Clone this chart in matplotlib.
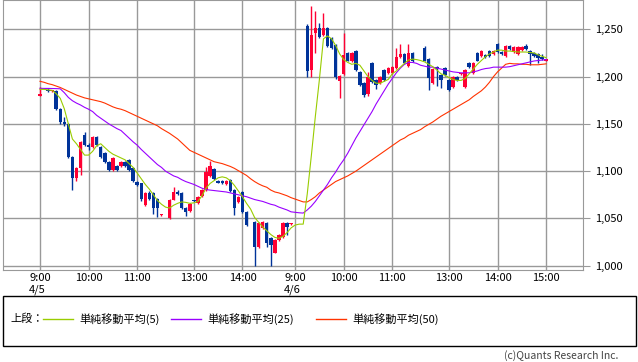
import numpy as np
import matplotlib.pyplot as plt
from matplotlib.lines import Line2D
from matplotlib.patches import Rectangle

plt.rcParams['font.family'] = ['Noto Sans CJK JP', 'DejaVu Sans']

# 5-minute candles, one slot per bar (None = no trade); day 1 = slots 0-62, day 2 = 63-125
open_ = [1180, None, 1186, 1185, 1185, 1166, 1152, 1150, 1115, 1093,
         1103, 1138, 1127, 1126, 1136, 1126, 1119, 1110, 1101, 1105,
         1105, 1110, 1112, 1103, 1089, 1087, 1064, 1077, 1077, 1071,
         1054, None, 1050, 1070, 1078, 1077, 1061, 1058, 1069, 1066,
         1074, 1080, 1095, 1102, 1090, 1090, 1086, 1091, 1080, 1067,
         1078, 1057, None, 1046, 1020, 1040, 1045, 1029, 1014, 1027,
         1030, 1045, 1044, None, None, None, 1254, 1207, 1246, 1251,
         1244, 1251, 1241, 1233, 1195, 1203, 1225, 1216, 1227, 1205,
         1193, 1182, 1214, 1196, 1193, 1207, 1204, 1204, 1209, 1221,
         1224, 1211, 1225, None, None, 1230, 1219, 1193, 1210, 1202,
         1209, 1196, 1189, 1200, 1203, 1189, 1214, 1204, 1225, 1222,
         1223, 1227, 1224, 1235, 1226, 1222, 1232, 1226, 1224, 1228,
         1232, 1227, 1225, 1224, 1221, 1217]
high = [1189, None, 1188, 1186, 1186, 1167, 1157, 1151, 1116, 1104,
        1132, 1141, 1130, 1137, 1137, 1127, 1120, 1111, 1115, 1106,
        1111, 1111, 1113, 1104, 1090, 1088, 1078, 1079, 1078, 1072,
        1055, None, 1071, 1083, 1080, 1078, 1062, 1066, 1070, 1074,
        1081, 1104, 1111, 1103, 1091, 1091, 1091, 1092, 1081, 1074,
        1079, 1058, None, 1047, 1046, 1047, 1046, 1030, 1028, 1034,
        1046, 1046, 1045, None, None, None, 1256, 1275, 1269, 1257,
        1267, 1252, 1242, 1234, 1202, 1246, 1226, 1226, 1228, 1206,
        1194, 1205, 1215, 1197, 1201, 1208, 1210, 1211, 1230, 1234,
        1225, 1235, 1226, None, None, 1232, 1220, 1209, 1211, 1203,
        1210, 1197, 1201, 1201, 1204, 1208, 1215, 1215, 1226, 1228,
        1224, 1228, 1228, 1236, 1227, 1233, 1233, 1232, 1232, 1232,
        1234, 1228, 1226, 1225, 1224, 1218]
low = [1179, None, 1184, 1184, 1165, 1150, 1148, 1114, 1080, 1090,
       1096, 1127, 1122, 1125, 1127, 1114, 1109, 1100, 1100, 1100,
       1104, 1104, 1100, 1089, 1084, 1068, 1063, 1070, 1055, 1052,
       1053, None, 1049, 1069, 1075, 1060, 1053, 1057, 1067, 1065,
       1073, 1079, 1094, 1091, 1087, 1086, 1085, 1078, 1054, 1066,
       1056, 1042, None, 1000, 1019, 1039, 1020, 1000, 1013, 1026,
       1029, 1032, 1043, None, None, None, 1200, 1200, 1225, 1241,
       1243, 1231, 1229, 1197, 1177, 1202, 1216, 1215, 1206, 1190,
       1178, 1180, 1193, 1187, 1192, 1195, 1203, 1203, 1208, 1220,
       1213, 1210, 1215, None, None, 1216, 1186, 1192, 1190, 1188,
       1201, 1185, 1188, 1195, 1202, 1188, 1209, 1203, 1216, 1221,
       1220, 1221, 1223, 1225, 1223, 1221, 1228, 1225, 1223, 1227,
       1228, 1212, 1221, 1214, 1218, 1216]
close = [1182, None, 1185, 1185, 1166, 1152, 1150, 1115, 1093, 1103,
         1131, 1128, 1126, 1136, 1128, 1115, 1110, 1101, 1114, 1101,
         1110, 1105, 1101, 1090, 1085, 1071, 1077, 1071, 1061, 1061,
         1054, None, 1070, 1078, 1076, 1061, 1057, 1065, 1068, 1073,
         1080, 1099, 1105, 1092, 1088, 1087, 1090, 1079, 1061, 1073,
         1057, 1043, None, 1020, 1045, 1046, 1024, 1022, 1027, 1033,
         1045, 1041, 1044, None, None, None, 1206, 1244, 1251, 1242,
         1251, 1232, 1230, 1200, 1201, 1223, 1217, 1225, 1207, 1191,
         1181, 1200, 1194, 1191, 1200, 1196, 1209, 1210, 1221, 1224,
         1214, 1225, 1216, None, None, 1217, 1198, 1208, 1208, 1196,
         1202, 1186, 1200, 1196, 1203, 1207, 1210, 1214, 1217, 1227,
         1221, 1222, 1227, 1226, 1224, 1232, 1229, 1231, 1231, 1231,
         1229, 1224, 1222, 1220, 1219, 1217]

ma5 = [1186.5, 1186.5, 1186, 1185.5, 1182, 1177, 1166, 1150, 1134, 1129,
       1123, 1117, 1117, 1121, 1127, 1129, 1125, 1121, 1118, 1116,
       1114, 1112, 1108, 1104, 1098, 1092, 1086, 1081, 1075, 1069,
       1065, 1062, 1061, 1064, 1066, 1067.5, 1067, 1066, 1066.5, 1068,
       1074, 1082, 1087, 1090, 1093, 1094, 1093, 1090, 1085, 1079,
       1073, 1066, 1060, 1051, 1046, 1041, 1037, 1033, 1030, 1029,
       1031, 1035, 1040, 1043, 1044, 1044, 1076, 1116, 1158, 1197,
       1240, 1243, 1240, 1233, 1224, 1218, 1215, 1213, 1214, 1212,
       1206, 1200, 1196, 1193, 1193, 1195, 1197, 1203, 1206, 1210,
       1214, 1217.5, 1218.5, 1218, 1217, 1215.5, 1213, 1210.5, 1207, 1203,
       1201.5, 1199, 1197, 1196, 1196, 1198, 1203, 1208, 1213, 1217,
       1221, 1224, 1226, 1228, 1228, 1227, 1227, 1226.5, 1226, 1226,
       1226, 1225.5, 1225, 1223, 1221.5, 1220]
ma25 = [1187.6, 1187.5, 1187.5, 1187.4, 1187.3, 1187.1, 1183, 1178, 1174.5, 1172,
        1170, 1167.5, 1165.5, 1163, 1159, 1156, 1153, 1150, 1147.5, 1145,
        1143, 1139, 1135, 1131, 1127.5, 1123, 1119, 1115, 1111, 1107,
        1104, 1100, 1097.5, 1095, 1093.5, 1091, 1089, 1087.5, 1086, 1084,
        1082, 1080.5, 1080, 1079.5, 1079, 1078.5, 1078, 1077, 1076, 1075,
        1074, 1073, 1071.5, 1070, 1069, 1068, 1066.5, 1065, 1064, 1062,
        1060.5, 1059, 1057, 1056.5, 1056, 1055.7, 1059, 1063, 1068, 1074,
        1080, 1086, 1093, 1099, 1106, 1112, 1119, 1127, 1135, 1142,
        1149, 1156, 1163, 1171, 1178, 1185, 1192, 1198, 1204, 1209,
        1213, 1215, 1215, 1214, 1212, 1211, 1210, 1210, 1209, 1208,
        1207, 1206, 1205, 1204.5, 1204, 1204, 1204, 1205, 1206, 1207.5,
        1208.5, 1209, 1210, 1210, 1210, 1210, 1210.5, 1211.5, 1212.5, 1213.5,
        1214.5, 1215.5, 1216.5, 1217, 1217.5, 1218]
ma50 = [1195, 1194, 1192.5, 1191.5, 1190, 1188.5, 1186.5, 1184.5, 1182.5, 1180.5,
        1179, 1177.5, 1176.5, 1175.5, 1174.5, 1173.5, 1172, 1170, 1168, 1166.5,
        1165.5, 1164, 1162, 1160, 1158, 1156, 1154, 1152, 1150, 1148,
        1145, 1142.5, 1140, 1137, 1134, 1130, 1126, 1122, 1120, 1118,
        1116, 1114, 1112, 1110, 1109, 1108, 1106.5, 1105, 1103, 1100.5,
        1098, 1095.5, 1092, 1089, 1086.5, 1084.5, 1083, 1080, 1078, 1077,
        1075.5, 1074, 1072, 1070.5, 1069, 1067.5, 1067.5, 1070, 1073, 1077,
        1080, 1083, 1086, 1089, 1091, 1093, 1095, 1097.5, 1100, 1103,
        1106, 1109, 1112, 1115, 1118, 1121, 1124, 1127, 1130, 1133,
        1135, 1138, 1140, 1142, 1144, 1147, 1149.5, 1152, 1155, 1158,
        1160.5, 1163, 1165.5, 1168, 1170.5, 1173, 1175.5, 1179, 1182, 1185,
        1189, 1194, 1200, 1205, 1209, 1213, 1214, 1213.5, 1213.5, 1213,
        1213, 1212.5, 1212.5, 1212.5, 1213, 1213.5]

tick_slots = [0, 12, 24, 38, 50, 63, 75, 87, 101, 113, 125]
tick_labels = ['9:00\n4/5', '10:00', '11:00', '13:00', '14:00', '9:00\n4/6',
               '10:00', '11:00', '13:00', '14:00', '15:00']
price_ticks = [1000, 1050, 1100, 1150, 1200, 1250]

W, H = 638, 362
fig = plt.figure(figsize=(W / 100, H / 100), dpi=100)
ax = fig.add_axes([3 / W, 1 - 270 / H, 580 / W, 270 / H])

o = np.array(open_, dtype=float)
h = np.array(high, dtype=float)
l = np.array(low, dtype=float)
c = np.array(close, dtype=float)
x = np.arange(len(o))
ok = ~np.isnan(o)
up = ok & (c >= o)
dn = ok & (c < o)

red, blue = '#ff0033', '#003399'
for m, col in [(up, red), (dn, blue)]:
    ax.vlines(x[m], l[m], h[m], color=col, lw=1, zorder=3)
    ax.bar(x[m], np.maximum(np.abs(c[m] - o[m]), 1.2), bottom=np.minimum(o[m], c[m]),
           width=0.85, color=col, lw=0, zorder=3)

ax.plot(x, ma50, color='#ff3300', lw=0.8, zorder=4)
ax.plot(x, ma25, color='#9900ff', lw=0.8, zorder=4)
ax.plot(x, ma5, color='#99cc00', lw=0.8, zorder=4)

ax.set_xlim(-9.14, 134.1)
ax.set_ylim(995.5, 1281)
ax.set_xticks(tick_slots)
ax.set_xticklabels(tick_labels, fontsize=8, multialignment='left', linespacing=1.25)
ax.set_yticks(price_ticks)
ax.set_yticklabels([f'{v:,}' for v in price_ticks], fontsize=8)
ax.yaxis.tick_right()
ax.tick_params(axis='x', length=0, pad=2)
ax.tick_params(axis='y', length=5, color='#999999', pad=4)
ax.grid(True, color='#999999', lw=1)
ax.set_axisbelow(True)
for s in ax.spines.values():
    s.set_color('#999999')

# legend box
fig.patches.append(Rectangle((3 / W, 1 - 346 / H), 633 / W, 50 / H, transform=fig.transFigure,
                             fill=False, edgecolor='black', lw=1))
ly = 1 - 319 / H
fig.text(10 / W, ly, '上段：', fontsize=8, va='center')
items = [(43, '#99cc00', '単純移動平均(5)'), (171, '#9900ff', '単純移動平均(25)'),
         (316, '#ff3300', '単純移動平均(50)')]
for x0, col, lab in items:
    fig.lines.append(Line2D([x0 / W, (x0 + 30) / W], [ly, ly], color=col, lw=1,
                            transform=fig.transFigure))
    fig.text((x0 + 36) / W, ly, lab, fontsize=8, va='center')

fig.text(618 / W, 1 - 356 / H, '(c)Quants Research Inc.', fontsize=7.5, ha='right',
         va='center', color='#444444')

fig.savefig('out.png', dpi=100)
